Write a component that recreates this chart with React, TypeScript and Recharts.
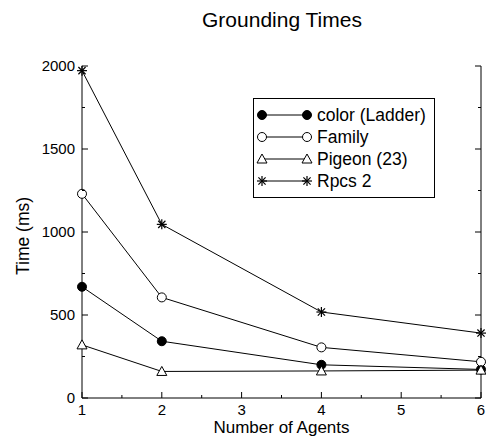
import React from 'react';
import { LineChart, Line, XAxis, YAxis, Legend, Customized } from 'recharts';

const agents = [1, 2, 4, 6];
const colorLadder = [670, 342, 200, 172];
const family = [1230, 606, 305, 218];
const pigeon = [320, 160, 163, 168];
const rpcs2 = [1972, 1046, 518, 391];

const xTicks = [1, 1.5, 2, 2.5, 3, 3.5, 4, 4.5, 5, 5.5, 6];
const yTicks = [0, 250, 500, 750, 1000, 1250, 1500, 1750, 2000];

const title = 'Grounding Times';
const xLabel = 'Number of Agents';
const yLabel = 'Time (ms)';

const seriesNames = ['color (Ladder)', 'Family', 'Pigeon (23)', 'Rpcs 2'];
const seriesKeys = ['color', 'family', 'pigeon', 'rpcs'];
const seriesShapes = ['filled', 'open', 'triangle', 'star'];

const data = agents.map((x, i) => ({
  x,
  color: colorLadder[i],
  family: family[i],
  pigeon: pigeon[i],
  rpcs: rpcs2[i],
}));

const FONT = '"Liberation Sans", Arial, Helvetica, sans-serif';
const INK = '#000';
const MAJOR = 6;
const MINOR = 3;
const Y_MARGIN = 7;

function Marker({ shape, cx, cy }: { shape: string; cx: number; cy: number }) {
  if (cx == null || cy == null) return null;
  if (shape === 'filled') return <circle cx={cx} cy={cy} r={4.5} fill={INK} stroke={INK} strokeWidth={1} />;
  if (shape === 'open') return <circle cx={cx} cy={cy} r={4.5} fill="#fff" stroke={INK} strokeWidth={1} />;
  if (shape === 'triangle') {
    const s = 5;
    return (
      <polygon
        points={`${cx},${cy - s} ${cx - s},${cy + s * 0.8} ${cx + s},${cy + s * 0.8}`}
        fill="#fff"
        stroke={INK}
        strokeWidth={1}
      />
    );
  }
  const r = 5;
  const d = r * 0.72;
  return (
    <g stroke={INK} strokeWidth={1.2}>
      <line x1={cx - r} y1={cy} x2={cx + r} y2={cy} />
      <line x1={cx} y1={cy - r} x2={cx} y2={cy + r} />
      <line x1={cx - d} y1={cy - d} x2={cx + d} y2={cy + d} />
      <line x1={cx - d} y1={cy + d} x2={cx + d} y2={cy - d} />
    </g>
  );
}

const isMajorX = (v: number) => Number.isInteger(v);
const isMajorY = (v: number) => v % 500 === 0;

function BottomTick(props: any) {
  const { x, y, payload } = props;
  const v = payload.value;
  const len = isMajorX(v) ? MAJOR : MINOR;
  return (
    <g>
      <line x1={x} y1={y} x2={x} y2={y - len} stroke={INK} strokeWidth={1} />
      {isMajorX(v) && (
        <text x={x} y={y + 17} textAnchor="middle" fontSize={15} fontFamily={FONT} fill={INK}>
          {v}
        </text>
      )}
    </g>
  );
}

function TopTick(props: any) {
  const { x, y, payload } = props;
  const len = isMajorX(payload.value) ? MAJOR : MINOR;
  return <line x1={x} y1={y} x2={x} y2={y + len} stroke={INK} strokeWidth={1} />;
}

function LeftTick(props: any) {
  const { x, y, payload } = props;
  const v = payload.value;
  const ax = x + Y_MARGIN;
  const len = isMajorY(v) ? MAJOR : MINOR;
  return (
    <g>
      <line x1={ax} y1={y} x2={ax + len} y2={y} stroke={INK} strokeWidth={1} />
      {isMajorY(v) && (
        <text x={x} y={y + 5} textAnchor="end" fontSize={15} fontFamily={FONT} fill={INK}>
          {v}
        </text>
      )}
    </g>
  );
}

function RightTick(props: any) {
  const { x, y, payload } = props;
  const len = isMajorY(payload.value) ? MAJOR : MINOR;
  return <line x1={x} y1={y} x2={x - len} y2={y} stroke={INK} strokeWidth={1} />;
}

function LegendBox() {
  const rowH = 22;
  return (
    <svg width={182} height={100} style={{ display: 'block' }}>
      <rect x={0.5} y={0.5} width={181} height={99} fill="#fff" stroke={INK} strokeWidth={1} />
      {seriesNames.map((name, i) => {
        const cy = 17 + i * rowH;
        return (
          <g key={name}>
            <line x1={9} y1={cy} x2={54} y2={cy} stroke={INK} strokeWidth={1} />
            <Marker shape={seriesShapes[i]} cx={9} cy={cy} />
            <Marker shape={seriesShapes[i]} cx={54} cy={cy} />
            <text x={64} y={cy + 6} fontSize={17.5} fontFamily={FONT} fill={INK}>
              {name}
            </text>
          </g>
        );
      })}
    </svg>
  );
}

function Title() {
  return (
    <text x={282} y={27} textAnchor="middle" fontSize={21} fontFamily={FONT} fill={INK}>
      {title}
    </text>
  );
}

export default function App() {
  return (
    <div style={{ position: 'absolute', left: 0, top: 0, background: '#fff' }}>
      <LineChart width={486} height={440} data={data} margin={{ top: 66, right: 0, bottom: 0, left: 0 }}>
        <XAxis
          xAxisId="b"
          dataKey="x"
          type="number"
          domain={[1, 6]}
          ticks={xTicks}
          interval={0}
          height={42}
          tickSize={0}
          tickMargin={0}
          tickLine={false}
          axisLine={{ stroke: INK, strokeWidth: 1 }}
          tick={<BottomTick />}
          label={{
            content: (p: any) => {
              const vb = p.viewBox;
              return (
                <text x={vb.x + vb.width / 2} y={vb.y + 35} textAnchor="middle" fontSize={17} fontFamily={FONT} fill={INK}>
                  {xLabel}
                </text>
              );
            },
          }}
        />
        <XAxis
          xAxisId="t"
          orientation="top"
          type="number"
          domain={[1, 6]}
          allowDataOverflow
          ticks={xTicks}
          interval={0}
          height={0}
          tickSize={0}
          tickMargin={0}
          tickLine={false}
          axisLine={{ stroke: INK, strokeWidth: 1 }}
          tick={<TopTick />}
        />
        <YAxis
          yAxisId="l"
          type="number"
          domain={[0, 2000]}
          ticks={yTicks}
          interval={0}
          width={82}
          tickSize={0}
          tickMargin={Y_MARGIN}
          tickLine={false}
          axisLine={{ stroke: INK, strokeWidth: 1 }}
          tick={<LeftTick />}
          label={{
            content: (p: any) => {
              const vb = p.viewBox;
              const cx = vb.x + 29;
              const cy = vb.y + vb.height / 2 + 4;
              return (
                <text
                  x={cx}
                  y={cy}
                  transform={`rotate(-90, ${cx}, ${cy})`}
                  textAnchor="middle"
                  fontSize={17.5}
                  fontFamily={FONT}
                  fill={INK}
                >
                  {yLabel}
                </text>
              );
            },
          }}
        />
        <YAxis
          yAxisId="r"
          orientation="right"
          type="number"
          domain={[0, 2000]}
          allowDataOverflow
          ticks={yTicks}
          interval={0}
          width={5}
          tickSize={0}
          tickMargin={0}
          tickLine={false}
          axisLine={{ stroke: INK, strokeWidth: 1 }}
          tick={<RightTick />}
        />
        {seriesKeys.map((k, i) => (
          <Line
            key={k}
            xAxisId="b"
            yAxisId="l"
            dataKey={k}
            name={seriesNames[i]}
            type="linear"
            stroke={INK}
            strokeWidth={1}
            isAnimationActive={false}
            dot={(p: any) => <Marker key={`${k}-${p.index}`} shape={seriesShapes[i]} cx={p.cx} cy={p.cy} />}
            activeDot={false}
          />
        ))}
        <Legend
          layout="vertical"
          align="center"
          verticalAlign="middle"
          content={() => <LegendBox />}
          wrapperStyle={{ position: 'absolute', left: 253, top: 98, width: 182, height: 100 }}
        />
        <Customized component={Title} />
      </LineChart>
    </div>
  );
}
